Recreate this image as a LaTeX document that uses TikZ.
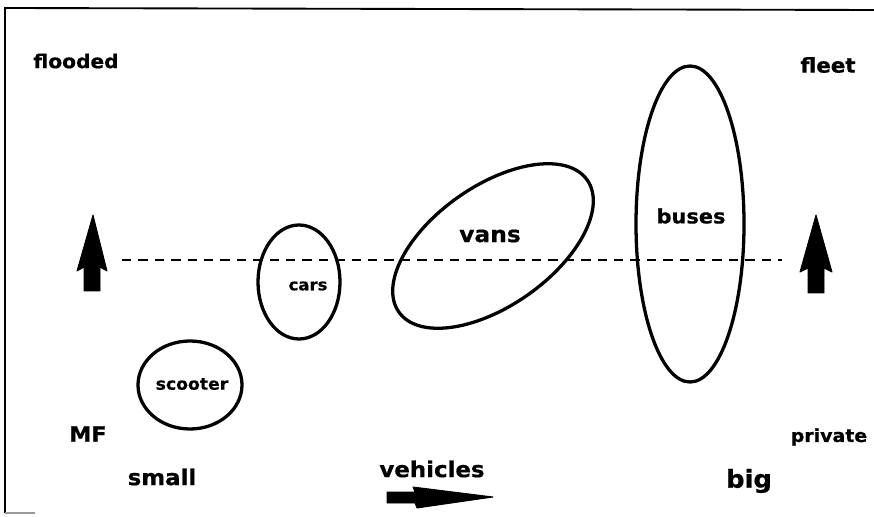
\documentclass[tikz,border=0pt]{standalone}
\usepackage{fontspec}
\newfontfamily\lblfont{DejaVu Sans}[FakeStretch=1.05,BoldFeatures={FakeBold=0.6}]
\usetikzlibrary{positioning}

\tikzset{
  lbl/.style={inner sep=0pt,font=\lblfont\bfseries\fontsize{#1}{#1}\selectfont},
  group/.style={line width=2.8pt},
  frame/.style={line width=1.6pt},
  midline/.style={line width=2.4pt,dash pattern=on 8pt off 6pt},
  bigarrow/.style={fill=black,draw=black,line width=0.8pt,line join=round}
}

\begin{document}
\begin{tikzpicture}[x=0.03cm,y=-0.03cm]
\useasboundingbox (0,0) rectangle (874,517);
% frame
\draw[frame] (5,513) -- (5,8) -- (874,10);
\draw[frame,black!40] (5,513) -- (35,513);
% corner labels
\node[lbl=16.4pt] (flooded) at (76,61) {flooded};
\node[lbl=17.4pt] (fleet) at (828,65) {fleet};
\node[lbl=18pt] (mf) at (88,434) {MF};
\node[lbl=15.4pt] (private) at (829,437) {private};
\node[lbl=18.6pt] (small) at (162,477) {small};
\node[lbl=18.6pt] (vehicles) at (432,469) {vehicles};
\node[lbl=21pt] (big) at (749,481) {big};
% dashed middle line
\coordinate (midL) at (122,260);
\coordinate (midR) at (782,260);
\draw[midline] (midL) -- (midR);
% vehicle groups
\draw[group] (190,385) ellipse [x radius=52,y radius=44];
\node[lbl=14pt] (scooter) at (192,384) {scooter};
\draw[group] (299,282) ellipse [x radius=41,y radius=57];
\node[lbl=13.4pt] (cars) at (308,286) {cars};
\draw[group,rotate around={35:(493,246)}] (493,246) ellipse [x radius=115,y radius=60];
\node[lbl=19pt] (vans) at (490,236) {vans};
\draw[group] (690,224) ellipse [x radius=54,y radius=158];
\node[lbl=17pt] (buses) at (691,216) {buses};
% arrows
\fill[bigarrow] (93,215) -- (107,271) -- (100,267) -- (100,291) -- (84,291) -- (84,267) -- (77,271) -- cycle;
\fill[bigarrow] (816,215) -- (832,272) -- (824,268) -- (824,293) -- (808,293) -- (808,268) -- (800,272) -- cycle;
\fill[bigarrow] (493,497) -- (417,508) -- (415,503) -- (387,503) -- (387,492) -- (415,492) -- (413,487) -- cycle;
\end{tikzpicture}
\end{document}
